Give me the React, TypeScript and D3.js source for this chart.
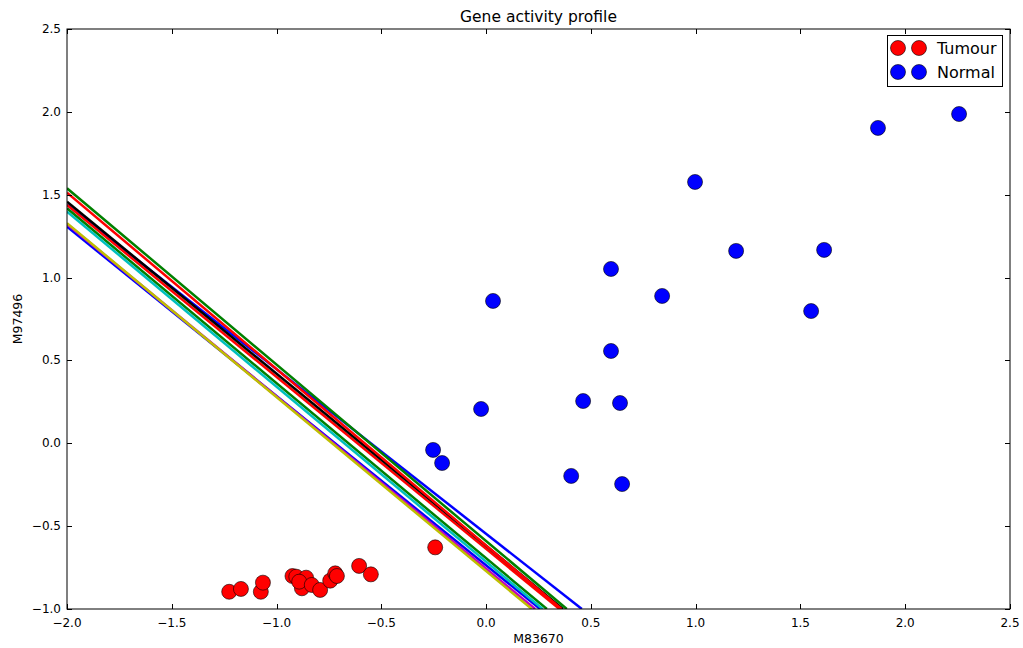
import { useRef, useEffect } from "react";
import * as d3 from "d3";

// Tumour samples [M83670, M97496]
const tumourX = [-1.226, -1.17, -1.075, -1.065, -0.924, -0.906, -0.859, -0.879, -0.892, -0.832, -0.792, -0.744, -0.72, -0.712, -0.606, -0.55, -0.243];
const tumourY = [-0.896, -0.879, -0.896, -0.841, -0.801, -0.805, -0.811, -0.875, -0.835, -0.855, -0.885, -0.829, -0.785, -0.801, -0.74, -0.791, -0.628];

// Normal samples
const normalX = [2.257, 1.87, 0.997, 0.596, 1.613, 1.193, 0.84, 0.033, 1.551, 0.596, 0.463, 0.639, -0.024, -0.253, -0.21, 0.406, 0.649];
const normalY = [1.987, 1.903, 1.577, 1.052, 1.167, 1.161, 0.889, 0.859, 0.798, 0.557, 0.255, 0.243, 0.207, -0.04, -0.119, -0.197, -0.246];

// decision boundaries: value at x=-2 and x where y=-1 (draw order)
const lineColors = ["#0000ff", "#0000ff", "#008000", "#ff0000", "#00bfbf", "#bf00bf", "#bfbf00", "#000000", "#008000", "#ff0000"];
const lineStartY = [1.44, 1.307, 1.418, 1.438, 1.398, 1.323, 1.328, 1.458, 1.539, 1.512];
const lineEndX = [0.457, 0.258, 0.29, 0.35, 0.27, 0.234, 0.218, 0.367, 0.385, 0.36];

const xTicks = [-2.0, -1.5, -1.0, -0.5, 0.0, 0.5, 1.0, 1.5, 2.0, 2.5];
const yTicks = [-1.0, -0.5, 0.0, 0.5, 1.0, 1.5, 2.0, 2.5];

const legendLabels = ["Tumour", "Normal"];
const legendColors = ["#ff0000", "#0000ff"];

const fmt = (v: number) => v.toFixed(1).replace("-", "\u2212");

export default function App() {
  const svgRef = useRef<SVGSVGElement>(null);

  useEffect(() => {
    const svg = d3.select(svgRef.current);
    svg.selectAll("*").remove();

    const width = 1023;
    const height = 648;
    const margin = { top: 29, right: 13, bottom: 39, left: 67 };
    const font = "DejaVu Sans, sans-serif";

    const x = d3.scaleLinear().domain([-2, 2.5]).range([margin.left, width - margin.right]);
    const y = d3.scaleLinear().domain([-1, 2.5]).range([height - margin.bottom, margin.top]);

    svg.append("rect").attr("width", width).attr("height", height).attr("fill", "white");

    svg.append("clipPath").attr("id", "plotclip")
      .append("rect")
      .attr("x", margin.left).attr("y", margin.top)
      .attr("width", x(2.5) - x(-2)).attr("height", y(-1) - y(2.5));

    // boundary lines
    const lineGen = d3.line<[number, number]>().x(d => x(d[0])).y(d => y(d[1]));
    svg.append("g").attr("clip-path", "url(#plotclip)")
      .selectAll("path")
      .data(lineColors)
      .enter()
      .append("path")
      .attr("d", (_, i) => lineGen([[-2, lineStartY[i]], [lineEndX[i], -1]]))
      .attr("fill", "none")
      .attr("stroke", d => d)
      .attr("stroke-width", 2.5);

    // points
    const pts = svg.append("g").attr("clip-path", "url(#plotclip)");
    pts.selectAll(".tumour")
      .data(tumourX)
      .enter()
      .append("circle")
      .attr("cx", d => x(d))
      .attr("cy", (_, i) => y(tumourY[i]))
      .attr("r", 7.5)
      .attr("fill", "#ff0000")
      .attr("stroke", "black")
      .attr("stroke-width", 0.6);
    pts.selectAll(".normal")
      .data(normalX)
      .enter()
      .append("circle")
      .attr("cx", d => x(d))
      .attr("cy", (_, i) => y(normalY[i]))
      .attr("r", 7.5)
      .attr("fill", "#0000ff")
      .attr("stroke", "black")
      .attr("stroke-width", 0.6);

    // ticks (inward, all four sides)
    const axes = svg.append("g").attr("stroke", "black").attr("stroke-width", 1);
    xTicks.forEach(t => {
      const px = Math.round(x(t)) + 0.5;
      axes.append("line").attr("x1", px).attr("x2", px).attr("y1", y(-1)).attr("y2", y(-1) - 5);
      axes.append("line").attr("x1", px).attr("x2", px).attr("y1", y(2.5)).attr("y2", y(2.5) + 5);
      svg.append("text").attr("x", x(t)).attr("y", y(-1) + 18)
        .attr("text-anchor", "middle").attr("font-family", font).attr("font-size", 12)
        .text(fmt(t));
    });
    yTicks.forEach(t => {
      const py = Math.round(y(t)) + 0.5;
      axes.append("line").attr("x1", x(-2)).attr("x2", x(-2) + 5).attr("y1", py).attr("y2", py);
      axes.append("line").attr("x1", x(2.5)).attr("x2", x(2.5) - 5).attr("y1", py).attr("y2", py);
      svg.append("text").attr("x", x(-2) - 6).attr("y", y(t) + 4)
        .attr("text-anchor", "end").attr("font-family", font).attr("font-size", 12)
        .text(fmt(t));
    });

    // frame
    svg.append("rect")
      .attr("x", x(-2)).attr("y", y(2.5))
      .attr("width", x(2.5) - x(-2)).attr("height", y(-1) - y(2.5))
      .attr("fill", "none").attr("stroke", "black").attr("stroke-width", 1);

    // labels
    svg.append("text").attr("x", (x(-2) + x(2.5)) / 2).attr("y", 22)
      .attr("text-anchor", "middle").attr("font-family", font).attr("font-size", 15.5)
      .text("Gene activity profile");
    svg.append("text").attr("x", (x(-2) + x(2.5)) / 2).attr("y", 643)
      .attr("text-anchor", "middle").attr("font-family", font).attr("font-size", 12.5)
      .text("M83670");
    svg.append("text")
      .attr("transform", `translate(22,${(y(-1) + y(2.5)) / 2}) rotate(-90)`)
      .attr("text-anchor", "middle").attr("font-family", font).attr("font-size", 12.5)
      .text("M97496");

    // legend
    const lg = svg.append("g");
    lg.append("rect").attr("x", 887.5).attr("y", 35.5).attr("width", 115).attr("height", 51)
      .attr("fill", "white").attr("stroke", "black").attr("stroke-width", 1);
    legendLabels.forEach((lab, i) => {
      const cy = 48 + i * 24;
      [898, 919].forEach(cx => {
        lg.append("circle").attr("cx", cx).attr("cy", cy).attr("r", 7.5)
          .attr("fill", legendColors[i]).attr("stroke", "black").attr("stroke-width", 0.6);
      });
      lg.append("text").attr("x", 937).attr("y", cy + 6)
        .attr("font-family", font).attr("font-size", 16).text(lab);
    });
  }, []);

  return (
    <svg
      ref={svgRef}
      width={1023}
      height={648}
      style={{ position: "absolute", left: 0, top: 0, display: "block" }}
    />
  );
}
